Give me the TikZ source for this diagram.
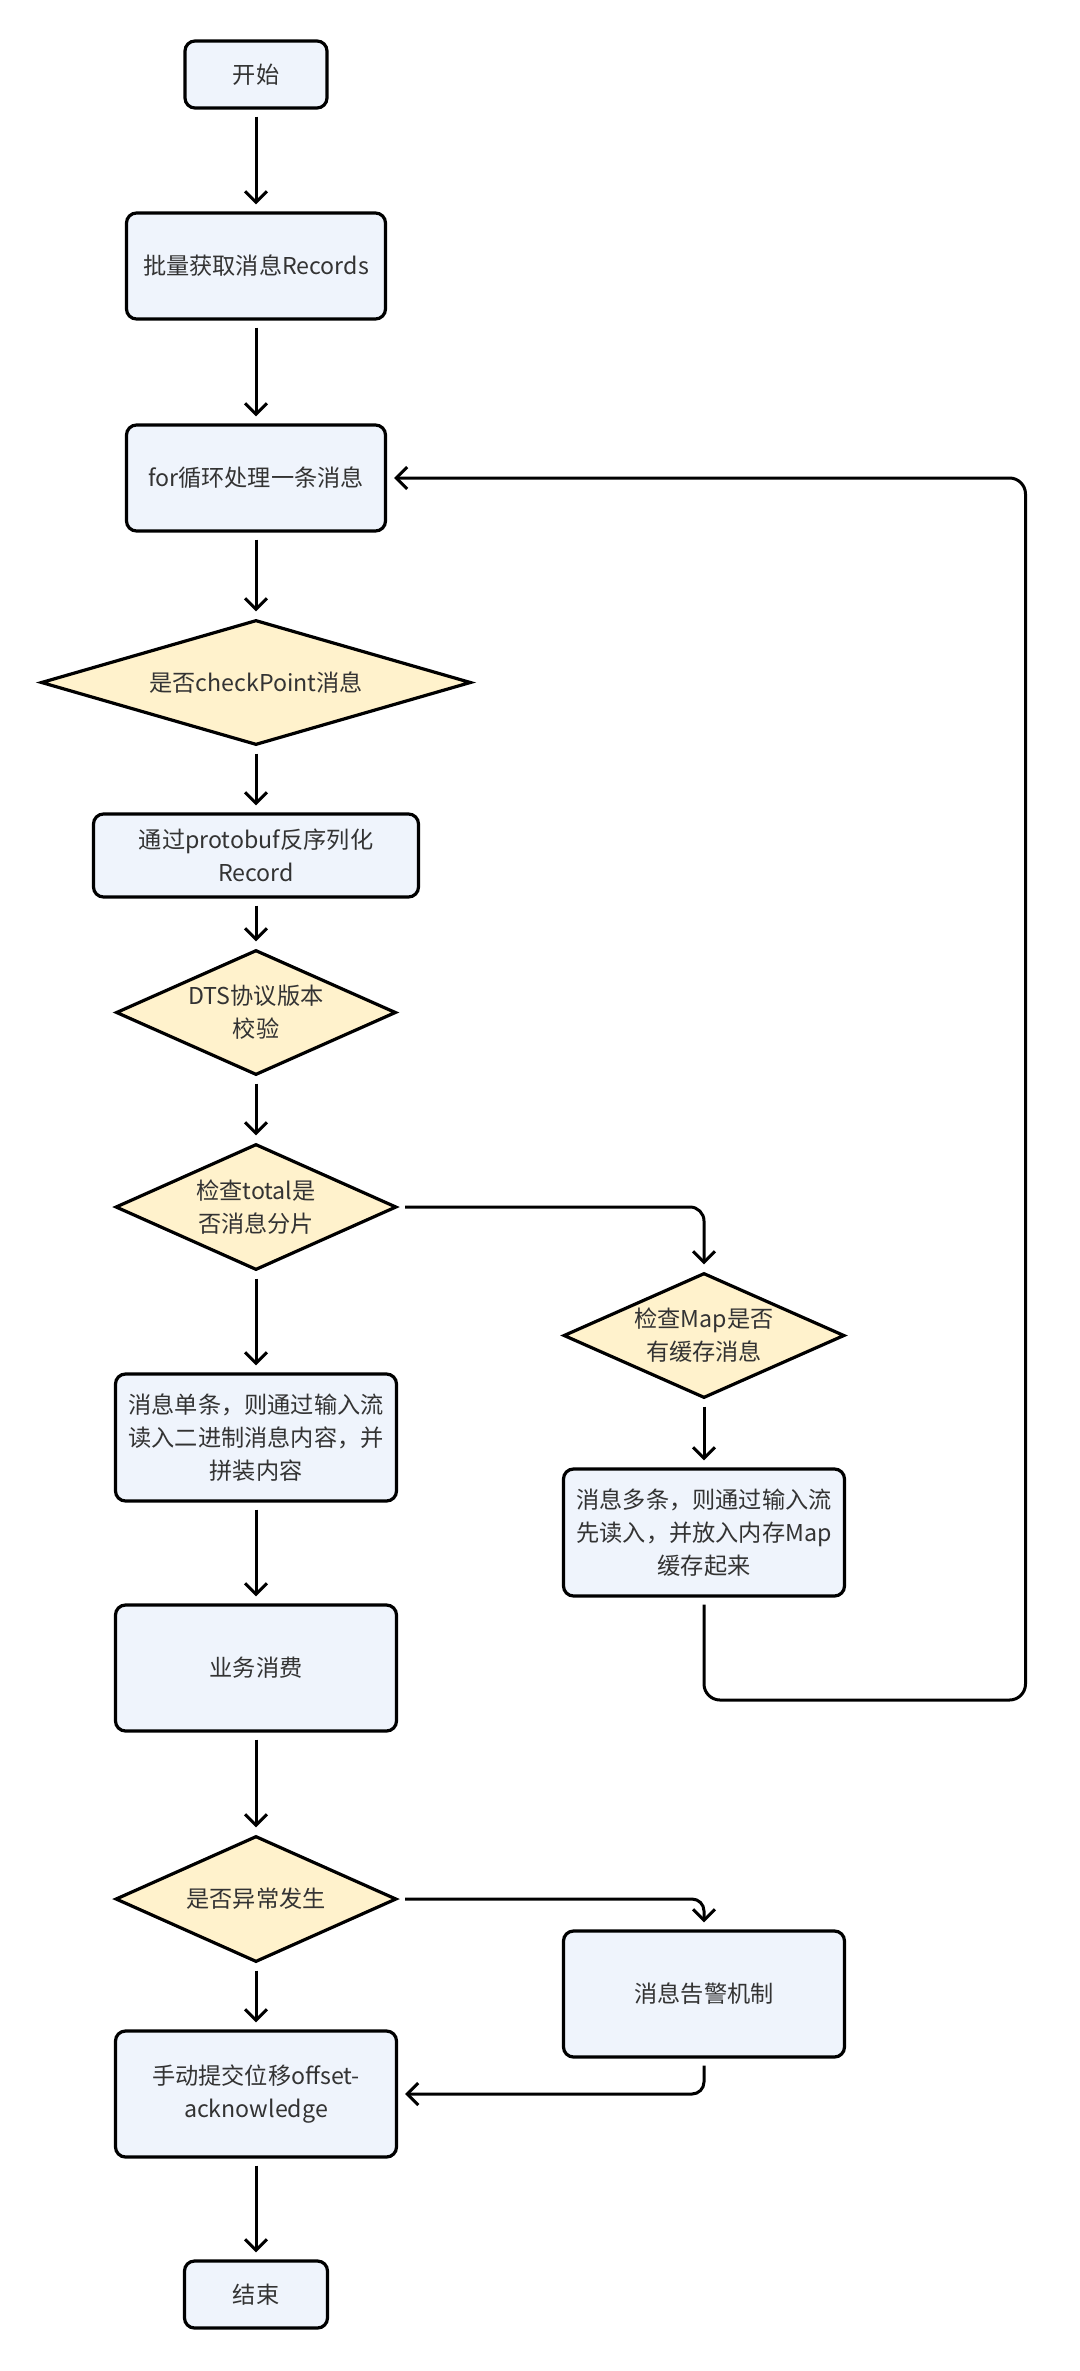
\documentclass[tikz,border=0pt]{standalone}
\usepackage{fontspec}
\setmainfont{Noto Sans CJK SC}
\usepackage{tikz}
\usetikzlibrary{shapes.geometric,arrows.meta}

\definecolor{boxfill}{RGB}{239,244,252}
\definecolor{askfill}{RGB}{255,242,204}
\definecolor{txt}{RGB}{51,51,51}

\begin{document}
\begin{tikzpicture}[x=0.5pt,y=-0.5pt,
  font=\fontsize{11.6}{16.5}\selectfont,
  proc/.style={draw=black,fill=boxfill,line width=1.6pt,rounded corners=5pt,
    text=txt,align=center,inner sep=0pt},
  ask/.style={draw=black,fill=askfill,line width=1.6pt,diamond,
    text=txt,align=center,inner sep=0pt},
  flow/.style={line width=1.5pt,-{Straight Barb[length=5.5pt,width=11pt]},
    shorten <=3.5pt,shorten >=3.5pt}]
  \useasboundingbox (0,0) rectangle (1080,2371);

  % main column
  \node[proc,minimum width=71pt,minimum height=33.5pt] (start) at (256,74.5) {开始};
  \node[proc,minimum width=129.5pt,minimum height=53pt] (fetch) at (256,266) {批量获取消息Records};
  \node[proc,minimum width=129.5pt,minimum height=53pt] (loop) at (256,478) {for循环处理一条消息};
  \node[ask,aspect=3.44,minimum width=215pt,minimum height=62.5pt] (ckpt) at (256,682.5) {是否checkPoint消息};
  \node[proc,minimum width=162.5pt,minimum height=41.5pt] (deser) at (256,855.5) {通过protobuf反序列化\\Record};
  \node[ask,aspect=2.24,minimum width=140pt,minimum height=62.5pt] (dts) at (256,1012.5) {DTS协议版本\\校验};
  \node[ask,aspect=2.23,minimum width=140.5pt,minimum height=63pt] (total) at (256,1207) {检查total是\\否消息分片};
  \node[proc,minimum width=140.5pt,minimum height=63.5pt] (single) at (256,1437.5) {消息单条，则通过输入流\\读入二进制消息内容，并\\拼装内容};
  \node[proc,minimum width=140.5pt,minimum height=63pt] (consume) at (256,1668) {业务消费};
  \node[ask,aspect=2.23,minimum width=140.5pt,minimum height=63pt] (exc) at (256,1899) {是否异常发生};
  \node[proc,minimum width=140.5pt,minimum height=63pt] (commit) at (256,2094) {手动提交位移offset-\\acknowledge};
  \node[proc,minimum width=71.5pt,minimum height=33.5pt] (end) at (256,2294.5) {结束};

  % right column
  \node[ask,aspect=2.23,minimum width=140.5pt,minimum height=62.5pt] (map) at (704,1335.5) {检查Map是否\\有缓存消息};
  \node[proc,minimum width=140.5pt,minimum height=63.5pt] (multi) at (704,1532.5) {消息多条，则通过输入流\\先读入，并放入内存Map\\缓存起来};
  \node[proc,minimum width=140.5pt,minimum height=63pt] (alert) at (704,1994) {消息告警机制};

  \coordinate (loopbr) at (1025.5,1700);

  \draw[flow] (start) -- (fetch);
  \draw[flow] (fetch) -- (loop);
  \draw[flow] (loop) -- (ckpt);
  \draw[flow] (ckpt) -- (deser);
  \draw[flow] (deser) -- (dts);
  \draw[flow] (dts) -- (total);
  \draw[flow] (total) -- (single);
  \draw[flow] (single) -- (consume);
  \draw[flow] (consume) -- (exc);
  \draw[flow] (exc) -- (commit);
  \draw[flow] (commit) -- (end);
  \draw[flow,rounded corners=7pt] (total.east) -| (map.north);
  \draw[flow] (map) -- (multi);
  % back to the for loop
  \draw[flow,rounded corners=8pt] (multi.south) |- (loopbr) |- (loop.east);
  \draw[flow,rounded corners=6pt] (exc.east) -| (alert.north);
  \draw[flow,rounded corners=6pt] (alert.south) |- (commit.east);
\end{tikzpicture}
\end{document}
